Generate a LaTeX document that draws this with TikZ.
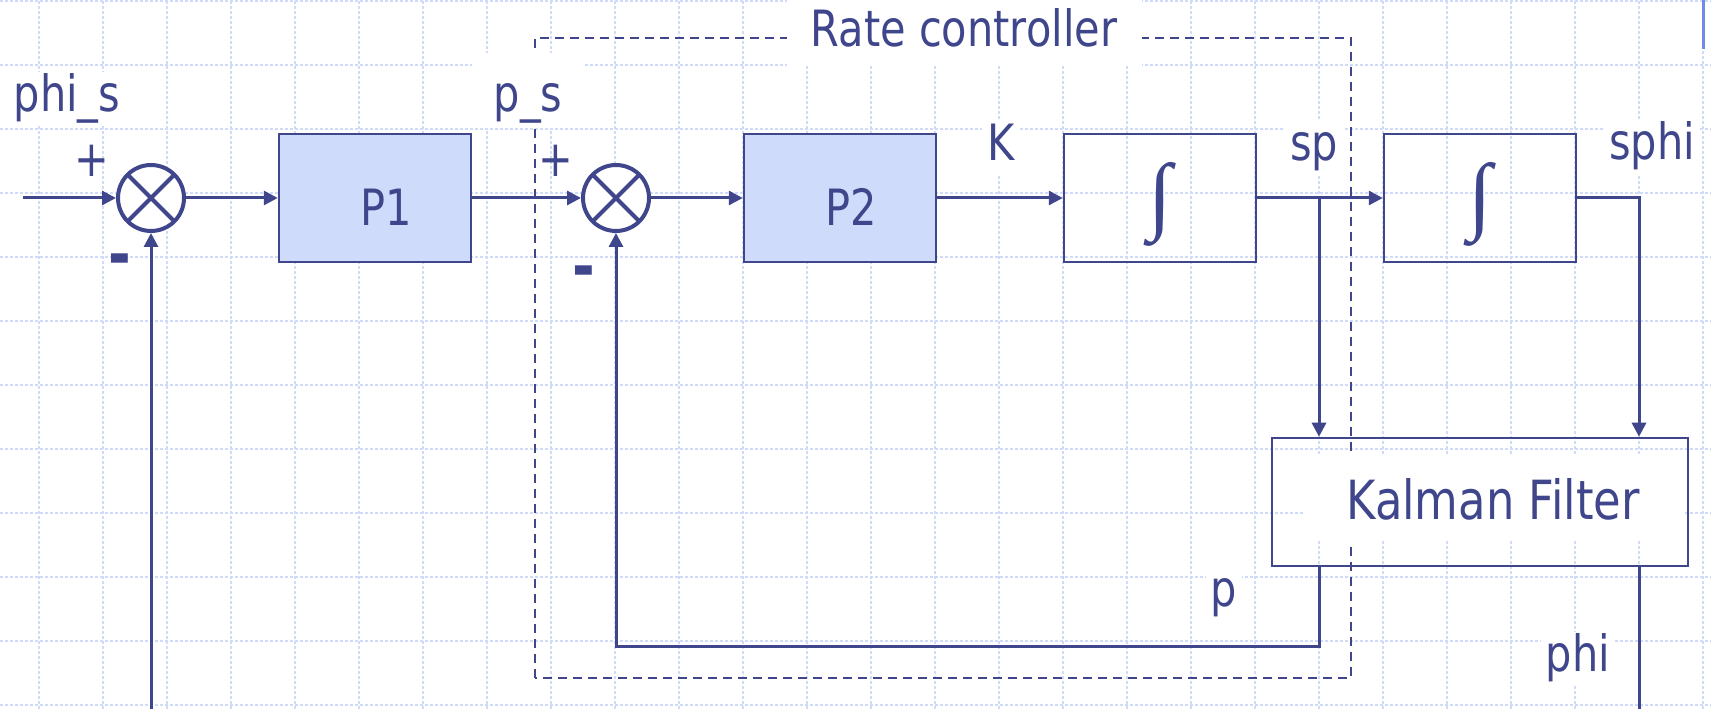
\documentclass[tikz,border=0pt]{standalone}
\usepackage{graphicx}
\usepackage{fontspec}
\setmainfont{DejaVu Sans}[FakeStretch=0.83]
\newfontfamily\intfont{Liberation Serif}
\usepackage{xcolor}
\usepackage{tikz}
\usetikzlibrary{arrows.meta,positioning,calc}

\definecolor{diag}{RGB}{63,70,140}
\definecolor{boxblue}{RGB}{206,219,250}
\definecolor{gridblue}{RGB}{208,219,249}
\definecolor{slideblue}{RGB}{112,140,232}

\newcommand{\bigint}{$\vcenter{\hbox{\resizebox*{!}{84pt}{\intfont ∫}}}$}

\begin{document}
\begin{tikzpicture}[
    x=1pt, y=1pt,
    node distance=224pt,
    every node/.style={text=diag, font=\fontsize{50}{60}\selectfont},
    boxbase/.style={rectangle, draw=diag, line width=2.5pt, minimum width=192pt, minimum height=128pt, inner sep=0pt},
    block/.style={boxbase, fill=boxblue, text height=56pt, text depth=0pt, execute at begin node={\hspace*{22pt}}},
    intblock/.style={boxbase, text height=67pt, text depth=42pt},
    kfbox/.style={boxbase, minimum width=416pt},
    kftext/.style={fill=white, inner sep=0pt, minimum width=380pt, minimum height=85pt, font=\fontsize{54}{60}\selectfont},
    sum/.style={circle, draw=diag, fill=white, line width=4pt, minimum size=66pt, inner sep=0pt,
        path picture={\draw[diag, line width=4pt] (path picture bounding box.north west) -- (path picture bounding box.south east)
            (path picture bounding box.north east) -- (path picture bounding box.south west);}},
    lbl/.style={anchor=base, fill=white, inner xsep=5pt, inner ysep=0pt, text height=40pt, text depth=14pt},
    sign/.style={inner sep=0pt},
    minus/.style={anchor=base, inner sep=0pt, font=\fontsize{66}{70}\selectfont\bfseries},
    wire/.style={draw=diag, line width=3pt},
    arrow/.style={wire, -{Triangle[length=14pt,width=14pt]}},
    gridline/.style={gridblue, line width=1.3pt, dash pattern=on 3pt off 2pt},
    ratebox/.style={draw=diag, line width=2.5pt, dash pattern=on 9pt off 6pt}
]

\useasboundingbox (0,0) rectangle (1711,709);
\fill[white] (0,0) rectangle (1711,709);

% Slide grid
\foreach \x in {39,103,...,1703} \draw[gridline] (\x,0) -- (\x,709);
\foreach \y in {4,68,...,708} \draw[gridline] (0,\y) -- (1711,\y);
\draw[slideblue, line width=3pt] (1703,660) -- (1703,709);

% Rate controller region
\draw[ratebox] (535,31) rectangle (1351,671);

% Blocks
\node[sum] (sum1) at (151,511) {};
\node[block, right of=sum1] (p1) {P1};
\node[sum, right of=p1, xshift=17pt] (sum2) {};
\node[block, right of=sum2] (p2) {P2};
\node[intblock, right of=p2, xshift=96pt] (int1) {\bigint};
\node[intblock, right of=int1, xshift=96pt] (int2) {\bigint};
\node[kfbox, below of=int2, yshift=-80pt] (kalman) {};
\node[kftext] (kftext) at ($(kalman.center)+(13,3)$) {Kalman Filter};

% Labels
\node[lbl] (phis) at (67,597) {phi\_s};
\node[lbl, text height=59pt, text depth=16pt, minimum width=112pt] (ps) at (528,597) {p\_s};
\node[lbl, text height=50pt, text depth=19pt, minimum width=355pt] (rate) at (964,662) {Rate controller};
\node[lbl] (k) at (1001,548) {K};
\node[lbl] (sp) at (1314,548) {sp};
\node[lbl] (sphi) at (1652,549) {sphi};
\node[lbl] (p) at (1224,102) {p};
\node[lbl] (phi) at (1578,37) {phi};

% Signs
\node[sign] (plus1) at (92,548) {+};
\node[minus] (minus1) at (120,431) {-};
\node[sign] (plus2) at (556,548) {+};
\node[minus] (minus2) at (584,419) {-};

% Connections
\coordinate (in) at (23,511);
\coordinate (spsplit) at (1319,511);
\coordinate (sphicorner) at (1639,511);
\coordinate (pcorner) at (1319,62);
\coordinate (phiout) at (1639,0);
\coordinate (fbin) at (151,0);

\draw[arrow] (in) -- (sum1);
\draw[arrow] (sum1) -- (p1);
\draw[arrow] (p1) -- (sum2);
\draw[arrow] (sum2) -- (p2);
\draw[arrow] (p2) -- (int1);
\draw[arrow] (int1) -- (int2);
\draw[arrow] (spsplit) -- (spsplit |- kalman.north);
\draw[arrow] (int2) -- (sphicorner) -- (sphicorner |- kalman.north);
\draw[arrow] (pcorner |- kalman.south) -- (pcorner) -| (sum2);
\draw[wire] (sphicorner |- kalman.south) -- (phiout);
\draw[arrow] (fbin) -- (sum1);

\end{tikzpicture}
\end{document}
